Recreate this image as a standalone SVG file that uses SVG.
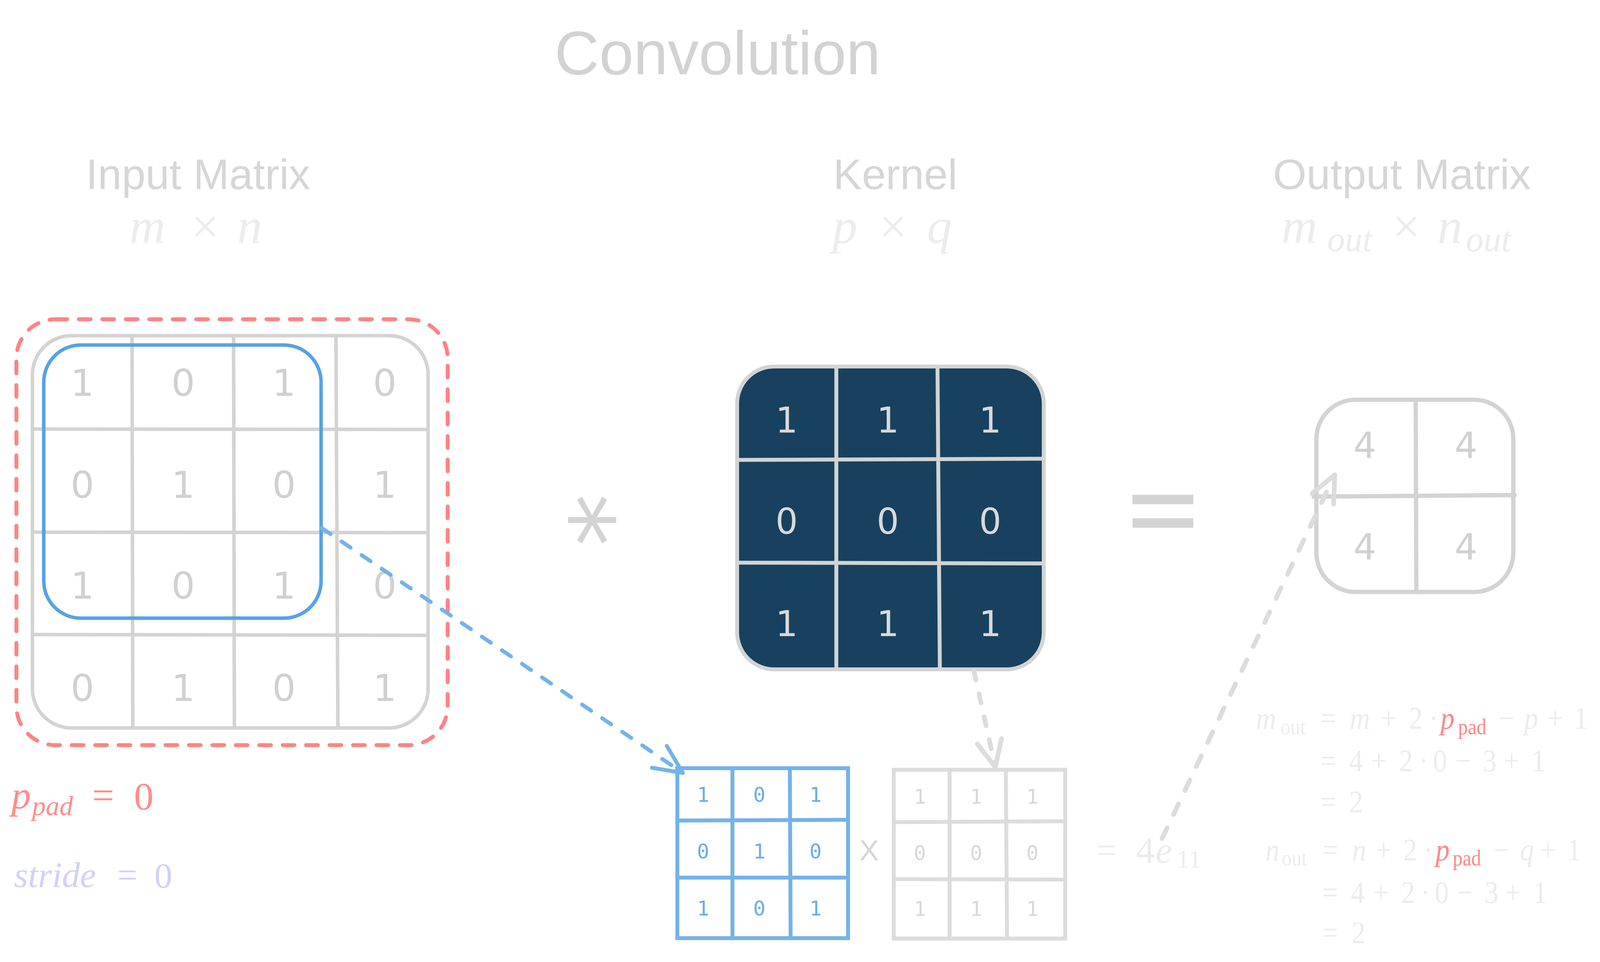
<svg xmlns="http://www.w3.org/2000/svg" width="4239" height="2462" viewBox="0 0 4239 2462">
<defs>
<style>
.bg{fill:#ffffff}
.title{font-family:"Liberation Sans","Noto Sans",sans-serif;fill:#d2d2d2}
.head{font-family:"Liberation Sans","Noto Sans",sans-serif;font-size:110px;fill:#d6d6d6;text-anchor:middle}
.math{font-family:"Liberation Serif","DejaVu Serif",serif;fill:#ececec}
.it{font-style:italic}
.grid{fill:none;stroke:#d3d3d3;stroke-width:9;stroke-linecap:round}
.dig{font-family:"DejaVu Sans","Noto Sans",sans-serif;font-size:95px;fill:#d0d0d0;text-anchor:middle}
.kdig{font-family:"DejaVu Sans","Noto Sans",sans-serif;font-size:90px;fill:#d9d9d9;text-anchor:middle}
.sdig{font-family:"DejaVu Sans Mono","Liberation Mono",monospace;font-size:52px;text-anchor:middle}
.bline{fill:none;stroke:#74b2ea;stroke-width:10;stroke-linecap:round}
.gline{fill:none;stroke:#dcdcdc;stroke-width:10;stroke-linecap:round}
.red{fill:#ff8787}
</style>
</defs>
<rect class="bg" x="0" y="0" width="4239" height="2462"/>

<g id="title">
<text class="title" x="1837" y="190" font-size="158" text-anchor="middle">Convolution</text>
</g>

<g id="input-label">
<text class="head" x="507" y="484">Input Matrix</text>
<text class="math it" x="331" y="622" font-size="128">m</text>
<text class="math" x="489" y="622" font-size="128">×</text>
<text class="math it" x="607" y="622" font-size="128">n</text>
</g>
<g id="kernel-label">
<text class="head" x="2292" y="484">Kernel</text>
<text class="math it" x="2131" y="622" font-size="128">p</text>
<text class="math" x="2250" y="622" font-size="128">×</text>
<text class="math it" x="2373" y="622" font-size="128">q</text>
</g>
<g id="output-label">
<text class="head" x="3589" y="484">Output Matrix</text>
<text class="math it" x="3280" y="622" font-size="128">m</text>
<text class="math it" x="3398" y="643" font-size="90">out</text>
<text class="math" x="3564" y="622" font-size="128">×</text>
<text class="math it" x="3680" y="622" font-size="128">n</text>
<text class="math it" x="3753" y="643" font-size="90">out</text>
</g>

<g id="input-matrix">
<rect x="83" y="859" width="1013" height="1004" rx="100" class="grid"/>
<path class="grid" d="M338 859 L340 1863 M598 859 L600 1863 M860 859 L865 1863 M83 1098 L1090 1099 M83 1362 L1096 1363 M83 1624 L1090 1626"/>
<g class="dig">
<text x="211" y="1013">1</text><text x="469" y="1013">0</text><text x="727" y="1013">1</text><text x="985" y="1013">0</text>
<text x="211" y="1274">0</text><text x="469" y="1274">1</text><text x="727" y="1274">0</text><text x="985" y="1274">1</text>
<text x="211" y="1532">1</text><text x="469" y="1532">0</text><text x="727" y="1532">1</text><text x="985" y="1532">0</text>
<text x="211" y="1794">0</text><text x="469" y="1794">1</text><text x="727" y="1794">0</text><text x="985" y="1794">1</text>
</g>
</g>

<g id="padding-frame">
<rect x="42" y="817" width="1104" height="1090" rx="100" fill="none" stroke="#ff8383" stroke-width="10" stroke-dasharray="30 30" stroke-linecap="round"/>
</g>

<g id="window">
<rect x="112" y="883" width="710" height="699" rx="95" fill="none" stroke="#56a2e5" stroke-width="9"/>
</g>

<g id="operator-conv">
<text x="1525" y="1479" transform="rotate(90 1525 1331)" font-family="DejaVu Sans, sans-serif" font-size="270" fill="#d3d3d3" text-anchor="middle">*</text>
</g>

<g id="kernel">
<rect x="1887" y="938" width="785" height="775" rx="95" fill="#17415f" stroke="#d3d3d3" stroke-width="10"/>
<path d="M2141 943 L2141 1708 M2400 943 L2406 1708 M1892 1177 L2672 1174 M1892 1440 L2672 1442" fill="none" stroke="#d3d3d3" stroke-width="10"/>
<g class="kdig">
<text x="2014" y="1107">1</text><text x="2273" y="1107">1</text><text x="2535" y="1107">1</text>
<text x="2014" y="1366">0</text><text x="2273" y="1366">0</text><text x="2535" y="1366">0</text>
<text x="2014" y="1628">1</text><text x="2273" y="1628">1</text><text x="2535" y="1628">1</text>
</g>
</g>

<g id="operator-eq">
<text x="2977" y="1419" transform="translate(0 1311) scale(1 0.72) translate(0 -1320)" font-family="Liberation Sans, sans-serif" font-weight="bold" font-size="310" fill="#d3d3d3" text-anchor="middle">=</text>
</g>

<g id="output-matrix">
<rect x="3370" y="1023" width="504" height="492" rx="100" fill="none" stroke="#d3d3d3" stroke-width="11"/>
<path d="M3624 1023 L3626 1515 M3363 1271 L3878 1267" fill="none" stroke="#d3d3d3" stroke-width="11" stroke-linecap="round"/>
<g class="kdig" style="font-size:92px;fill:#d0d0d0">
<text x="3494" y="1172">4</text><text x="3753" y="1172">4</text>
<text x="3494" y="1432">4</text><text x="3753" y="1432">4</text>
</g>
</g>

<g id="window-matrix">
<rect x="1734" y="1966" width="437" height="435" class="bline"/>
<path class="bline" d="M1875 1966 L1875 2401 M2022 1966 L2024 2401 M1734 2100 L2171 2098 M1734 2246 L2171 2246"/>
<g class="sdig" fill="#6aace8">
<text x="1800" y="2052">1</text><text x="1944" y="2052">0</text><text x="2088" y="2052">1</text>
<text x="1800" y="2197">0</text><text x="1944" y="2197">1</text><text x="2088" y="2197">0</text>
<text x="1800" y="2343">1</text><text x="1944" y="2343">0</text><text x="2088" y="2343">1</text>
</g>
</g>

<g id="times">
<text x="2225" y="2202" font-family="Liberation Sans, sans-serif" font-size="75" fill="#d5d5d5" text-anchor="middle">X</text>
</g>

<g id="kernel-copy">
<rect x="2288" y="1970" width="439" height="432" class="gline"/>
<path class="gline" d="M2431 1970 L2431 2402 M2575 1970 L2578 2402 M2288 2104 L2727 2102 M2288 2250 L2727 2251"/>
<g class="sdig" fill="#d8d8d8">
<text x="2355" y="2057">1</text><text x="2499" y="2057">1</text><text x="2643" y="2057">1</text>
<text x="2355" y="2201">0</text><text x="2499" y="2201">0</text><text x="2643" y="2201">0</text>
<text x="2355" y="2344">1</text><text x="2499" y="2344">1</text><text x="2643" y="2344">1</text>
</g>
</g>

<g id="result">
<text class="math" x="2806" y="2208" font-size="96">=</text>
<text class="math" x="2908" y="2208" font-size="96">4</text>
<text class="math it" x="2958" y="2208" font-size="96">e</text>
<text class="math" x="3012" y="2221" font-size="66">11</text>
</g>

<g id="params">
<text class="math it" x="29" y="2069" font-size="100" style="fill:#ff8c8c">p</text>
<text class="math it" x="82" y="2086" font-size="70" style="fill:#ff8c8c">pad</text>
<text class="math" x="236" y="2069" font-size="100" style="fill:#ff8c8c">=</text>
<text class="math" x="343" y="2071" font-size="100" style="fill:#ff8c8c">0</text>
<text class="math it" x="36" y="2270" font-size="92" style="fill:#d0d0ff">stride</text>
<text class="math" x="300" y="2270" font-size="92" style="fill:#d0d0ff">=</text>
<text class="math" x="395" y="2272" font-size="92" style="fill:#d0d0ff">0</text>
</g>

<g id="formulas" font-size="80" transform="translate(3215 0) scale(0.9 1) translate(-3263 0)">
<text class="math it" x="3263" y="1865">m</text>
<text class="math" x="3333" y="1879" font-size="56">out</text>
<text class="math" x="3447" y="1865">=</text>
<text class="math it" x="3530" y="1865">m</text>
<text class="math" x="3618" y="1865">+</text>
<text class="math" x="3698" y="1865">2</text>
<text class="math" x="3755" y="1865">·</text>
<text class="math it red" x="3788" y="1865">p</text>
<text class="math red" x="3838" y="1879" font-size="56">pad</text>
<text class="math" x="3954" y="1865">−</text>
<text class="math it" x="4026" y="1865">p</text>
<text class="math" x="4092" y="1865">+</text>
<text class="math" x="4168" y="1865">1</text>

<text class="math" x="3447" y="1974">=</text>
<text class="math" x="3528" y="1974">4</text>
<text class="math" x="3590" y="1974">+</text>
<text class="math" x="3670" y="1974">2</text>
<text class="math" x="3727" y="1974">·</text>
<text class="math" x="3767" y="1974">0</text>
<text class="math" x="3830" y="1974">−</text>
<text class="math" x="3908" y="1974">3</text>
<text class="math" x="3968" y="1974">+</text>
<text class="math" x="4047" y="1974">1</text>

<text class="math" x="3447" y="2079">=</text>
<text class="math" x="3528" y="2079">2</text>

<text class="math it" x="3290" y="2202">n</text>
<text class="math" x="3337" y="2215" font-size="56">out</text>
<text class="math" x="3452" y="2202">=</text>
<text class="math it" x="3537" y="2202">n</text>
<text class="math" x="3604" y="2202">+</text>
<text class="math" x="3682" y="2202">2</text>
<text class="math" x="3740" y="2202">·</text>
<text class="math it red" x="3774" y="2202">p</text>
<text class="math red" x="3823" y="2215" font-size="56">pad</text>
<text class="math" x="3939" y="2202">−</text>
<text class="math it" x="4014" y="2202">q</text>
<text class="math" x="4072" y="2202">+</text>
<text class="math" x="4148" y="2202">1</text>

<text class="math" x="3452" y="2311">=</text>
<text class="math" x="3533" y="2311">4</text>
<text class="math" x="3596" y="2311">+</text>
<text class="math" x="3676" y="2311">2</text>
<text class="math" x="3732" y="2311">·</text>
<text class="math" x="3772" y="2311">0</text>
<text class="math" x="3835" y="2311">−</text>
<text class="math" x="3913" y="2311">3</text>
<text class="math" x="3972" y="2311">+</text>
<text class="math" x="4052" y="2311">1</text>

<text class="math" x="3452" y="2414">=</text>
<text class="math" x="3535" y="2414">2</text>
</g>

<g id="connectors" fill="none" stroke-linecap="round" stroke-linejoin="round">
<path d="M823 1351 L1748 1978" stroke="#74b2ea" stroke-width="10" stroke-dasharray="28 34"/>
<path d="M1707 1909 L1748 1978 L1669 1965" stroke="#74b2ea" stroke-width="10"/>
<path d="M2493 1717 L2548 1963" stroke="#dcdcdc" stroke-width="12" stroke-dasharray="24 36"/>
<path d="M2502 1904 L2548 1963 L2564 1890" stroke="#dcdcdc" stroke-width="12"/>
<path d="M2975 2146 L3417 1215" stroke="#dcdcdc" stroke-width="12" stroke-dasharray="30 38"/>
<path d="M3359 1263 L3417 1215 L3414 1290" stroke="#dcdcdc" stroke-width="12"/>
</g>
</svg>
